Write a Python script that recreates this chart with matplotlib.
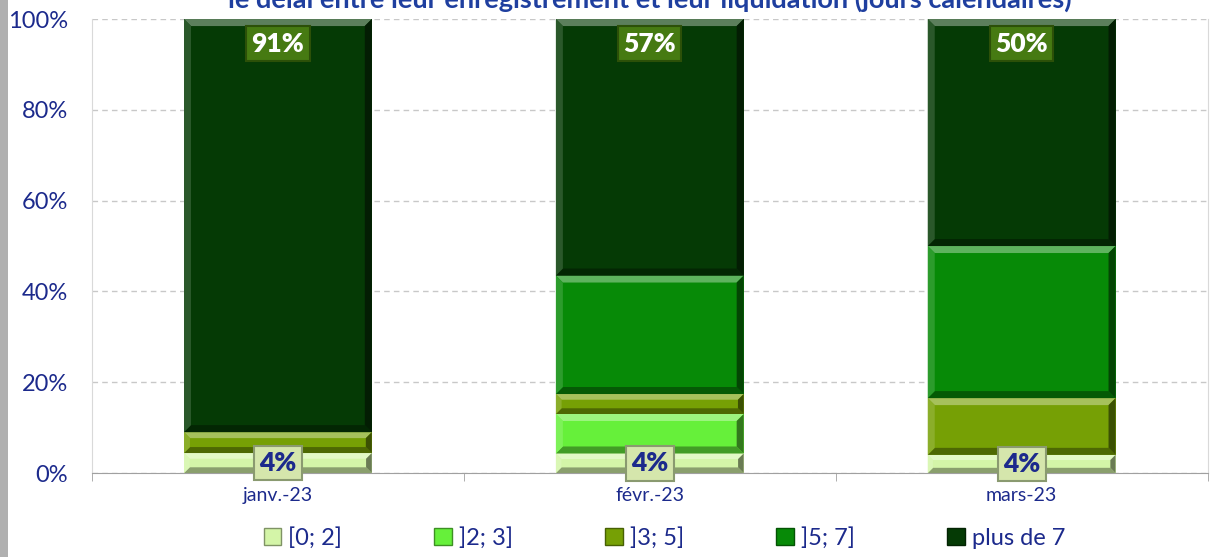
import numpy as np
import matplotlib
matplotlib.use('Agg')
import matplotlib.pyplot as plt
from matplotlib.patches import Polygon, Patch, Rectangle

plt.rcParams['font.family'] = ['Lato', 'DejaVu Sans']

# data (shares in %)
months = ['janv.-23', 'févr.-23', 'mars-23']
series_names = ['[0; 2]', ']2; 3]', ']3; 5]', ']5; 7]', 'plus de 7']
s_0_2 = [4.4, 4.3, 4.0]
s_2_3 = [0.0, 8.7, 0.0]
s_3_5 = [4.6, 4.4, 12.5]
s_5_7 = [0.0, 26.1, 33.5]
s_plus7 = [91.0, 56.5, 50.0]
label_0_2 = ['4%', '4%', '4%']
label_plus7 = ['91%', '57%', '50%']
title = 'le délai entre leur enregistrement et leur liquidation (jours calendaires)'

colors = ['#d4f5a8', '#66f03a', '#76a005', '#078a07', '#053a05']
navy = '#1c2a8c'


def shade(c, f):
    rgb = np.array(matplotlib.colors.to_rgb(c))
    if f > 0:
        rgb = rgb + (1 - rgb) * f
    else:
        rgb = rgb * (1 + f)
    return tuple(np.clip(rgb, 0, 1))


def bevel(ax, rect, color):
    # fake Excel bevel: light top/left edges, dark bottom/right edges
    x0, y0 = rect.get_x(), rect.get_y()
    w, h = rect.get_width(), rect.get_height()
    if h <= 0:
        return
    px_x = 1 / 372.0
    px_y = 100 / 454.0
    b = min(7, h / px_y / 3.5)
    bx, by = b * px_x, b * px_y
    x1, y1 = x0 + w, y0 + h
    ax.add_patch(Polygon([(x0, y1), (x1, y1), (x1 - bx, y1 - by), (x0 + bx, y1 - by)],
                         closed=True, fc=shade(color, 0.35), ec='none', zorder=3))
    ax.add_patch(Polygon([(x0, y0), (x1, y0), (x1 - bx, y0 + by), (x0 + bx, y0 + by)],
                         closed=True, fc=shade(color, -0.35), ec='none', zorder=3))
    ax.add_patch(Polygon([(x0, y0), (x0, y1), (x0 + bx, y1 - by), (x0 + bx, y0 + by)],
                         closed=True, fc=shade(color, 0.15), ec='none', zorder=3))
    ax.add_patch(Polygon([(x1, y0), (x1, y1), (x1 - bx, y1 - by), (x1 - bx, y0 + by)],
                         closed=True, fc=shade(color, -0.5), ec='none', zorder=3))


fig = plt.figure(figsize=(12.1, 5.57), dpi=100)
ax = fig.add_axes([0.076, 0.1508, 0.922, 0.815])

x = np.arange(len(months))
data = [s_0_2, s_2_3, s_3_5, s_5_7, s_plus7]
bottom = np.zeros(len(months))
for vals, col in zip(data, colors):
    bars = ax.bar(x, vals, 0.505, bottom=bottom, color=col, edgecolor='none', zorder=2)
    for r in bars:
        bevel(ax, r, col)
    bottom += np.array(vals)

# labels
for i in range(len(months)):
    ax.text(x[i], s_0_2[i] / 2, label_0_2[i], ha='center', va='center', fontsize=19,
            fontweight='heavy', color=navy, zorder=5,
            bbox=dict(boxstyle='square,pad=0.2', fc='#d5e6ac', ec='#8a9a70', lw=1.5))
    ax.annotate(label_plus7[i], (x[i], bottom[i]), xytext=(0, -9), textcoords='offset points',
                ha='center', va='top', fontsize=19, fontweight='heavy', color='white', zorder=5,
                bbox=dict(boxstyle='square,pad=0.2', fc='#467a12', ec='#2c5008', lw=1.5))

ax.set_xlim(-0.5, 2.5)
ax.set_ylim(0, 100)
ax.set_yticks(np.arange(0, 101, 20))
ax.set_yticklabels([f'{v}%' for v in range(0, 101, 20)])
ax.set_xticks(x)
ax.set_xticklabels(months)
ax.set_xticks([-0.5, 0.5, 1.5, 2.5], minor=True)
ax.tick_params(axis='x', which='major', length=0, labelsize=14, labelcolor=navy, pad=10)
ax.tick_params(axis='x', which='minor', length=6, color='#a0a0a0')
ax.tick_params(axis='y', length=0, labelsize=17, labelcolor=navy, pad=17)
ax.grid(axis='y', linestyle=(0, (4, 3)), color='#c8c8c8', lw=1, zorder=0)
for s in ['left', 'right']:
    ax.spines[s].set_color('#d9d9d9')
ax.spines['top'].set_visible(False)
ax.spines['bottom'].set_color('#a0a0a0')

fig.text(0.537, 1 - 8 / 557, title, ha='center', va='baseline', fontsize=19.5,
         fontweight='bold', color='#1f3f9f')

handles = [Patch(fc=c, ec=shade(c, -0.4), lw=1) for c in colors]
fig.legend(handles, series_names, loc='center', bbox_to_anchor=(0.549, 0.034), ncol=5,
           frameon=False, fontsize=17, labelcolor=navy, handlelength=0.75, handleheight=0.75,
           handletextpad=0.3, columnspacing=3.9)

fig.patches.append(Rectangle((0, 0), 8 / 1210, 1, transform=fig.transFigure,
                             fc='#b0b0b0', ec='none'))

fig.savefig('out.png', dpi=100)
